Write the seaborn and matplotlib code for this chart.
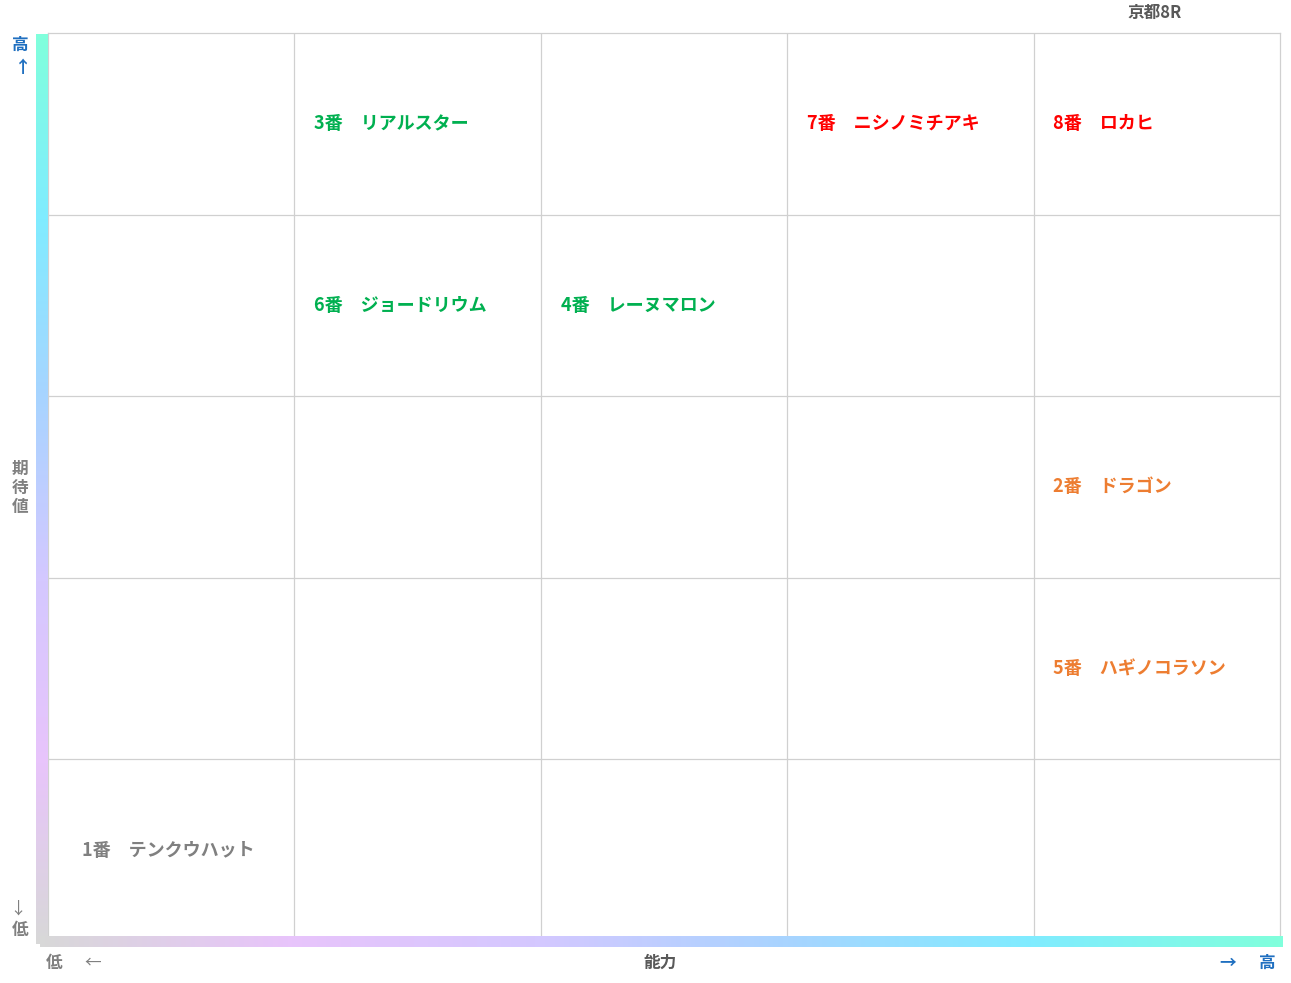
import matplotlib.pyplot as plt
import numpy as np
import seaborn as sns
from matplotlib.colors import LinearSegmentedColormap

sns.set_theme(style="white")
plt.rcParams['font.family'] = ['Noto Sans CJK JP', 'DejaVu Sans']

# 馬データ (能力の列, 期待値の行)
names = ['1番\u3000テンクウハット', '2番\u3000ドラゴン', '3番\u3000リアルスター', '4番\u3000レーヌマロン',
         '5番\u3000ハギノコラソン', '6番\u3000ジョードリウム', '7番\u3000ニシノミチアキ', '8番\u3000ロカヒ']
ability = [1, 5, 2, 3, 5, 2, 4, 5]
expect = [1, 3, 5, 4, 2, 4, 5, 5]
colors = ['#808080', '#ed7d31', '#00b050', '#00b050', '#ed7d31', '#00b050', '#ff0000', '#ff0000']

W, H = 1291, 983
fig = plt.figure(figsize=(W / 100, H / 100), dpi=100)
left, right, top, bottom = 48, 1280, 33, 941
ax = fig.add_axes([left / W, 1 - bottom / H, (right - left) / W, (bottom - top) / H])
ax.set_xlim(0, 5)
ax.set_ylim(0, 5)
for v in range(1, 5):
    ax.axvline(v, color='#d0d0d0', lw=0.9)
    ax.axhline(v, color='#d0d0d0', lw=0.9)
for s in ax.spines.values():
    s.set_color('#d0d0d0')
    s.set_linewidth(0.9)
ax.set_xticks([])
ax.set_yticks([])

for n, a, e, c in zip(names, ability, expect, colors):
    ax.text(a - 1 + 0.08 + (0.06 if a == 1 else 0), e - 0.5, n, color=c, fontsize=13,
            fontweight='bold', va='center', ha='left')

# グラデーション軸
vcmap = LinearSegmentedColormap.from_list('v', ['#d8d8d8', '#e8c4fb', '#d4c8ff', '#a8d4ff', '#80ecff', '#80ffdc'])
hcmap = LinearSegmentedColormap.from_list('h', ['#d8d8d8', '#e8c4fb', '#d4c8ff', '#a8d4ff', '#80ecff', '#80ffdc'])
vax = fig.add_axes([36 / W, 1 - 944 / H, 12 / W, (944 - 34) / H])
vax.imshow(np.linspace(0, 1, 256).reshape(-1, 1), cmap=vcmap, aspect='auto', origin='lower')
vax.axis('off')
hax = fig.add_axes([40 / W, 1 - 947 / H, (1283 - 40) / W, 11 / H])
hax.imshow(np.linspace(0, 1, 256).reshape(1, -1), cmap=hcmap, aspect='auto')
hax.axis('off')

fig.text(1155 / W, 1 - 13 / H, '京都8R', ha='center', va='center', fontsize=12, fontweight='bold', color='#595959')
fig.text(20 / W, 1 - 45 / H, '高', ha='center', va='center', fontsize=12, fontweight='bold', color='#1f6fc0')
fig.text(20 / W, 1 - 65 / H, '←', ha='center', va='center', fontsize=12, fontweight='bold', color='#1f6fc0',
         rotation=-90)
fig.text(20 / W, 1 - 488 / H, '期\n待\n値', ha='center', va='center', fontsize=12, fontweight='bold',
         color='#808080', linespacing=1.1)
fig.text(20 / W, 1 - 907 / H, '←', ha='center', va='center', fontsize=12, color='#808080', rotation=90)
fig.text(20 / W, 1 - 930 / H, '低', ha='center', va='center', fontsize=12, fontweight='bold', color='#808080')
fig.text(54 / W, 1 - 963 / H, '低', ha='center', va='center', fontsize=12, fontweight='bold', color='#808080')
fig.text(93 / W, 1 - 963 / H, '←', ha='center', va='center', fontsize=12, color='#808080')
fig.text(660 / W, 1 - 963 / H, '能力', ha='center', va='center', fontsize=12, fontweight='bold', color='#595959')
fig.text(1228 / W, 1 - 963 / H, '→', ha='center', va='center', fontsize=12, fontweight='bold', color='#1f6fc0')
fig.text(1267 / W, 1 - 963 / H, '高', ha='center', va='center', fontsize=12, fontweight='bold', color='#1f6fc0')

fig.savefig('out.png', dpi=100, facecolor='white')
